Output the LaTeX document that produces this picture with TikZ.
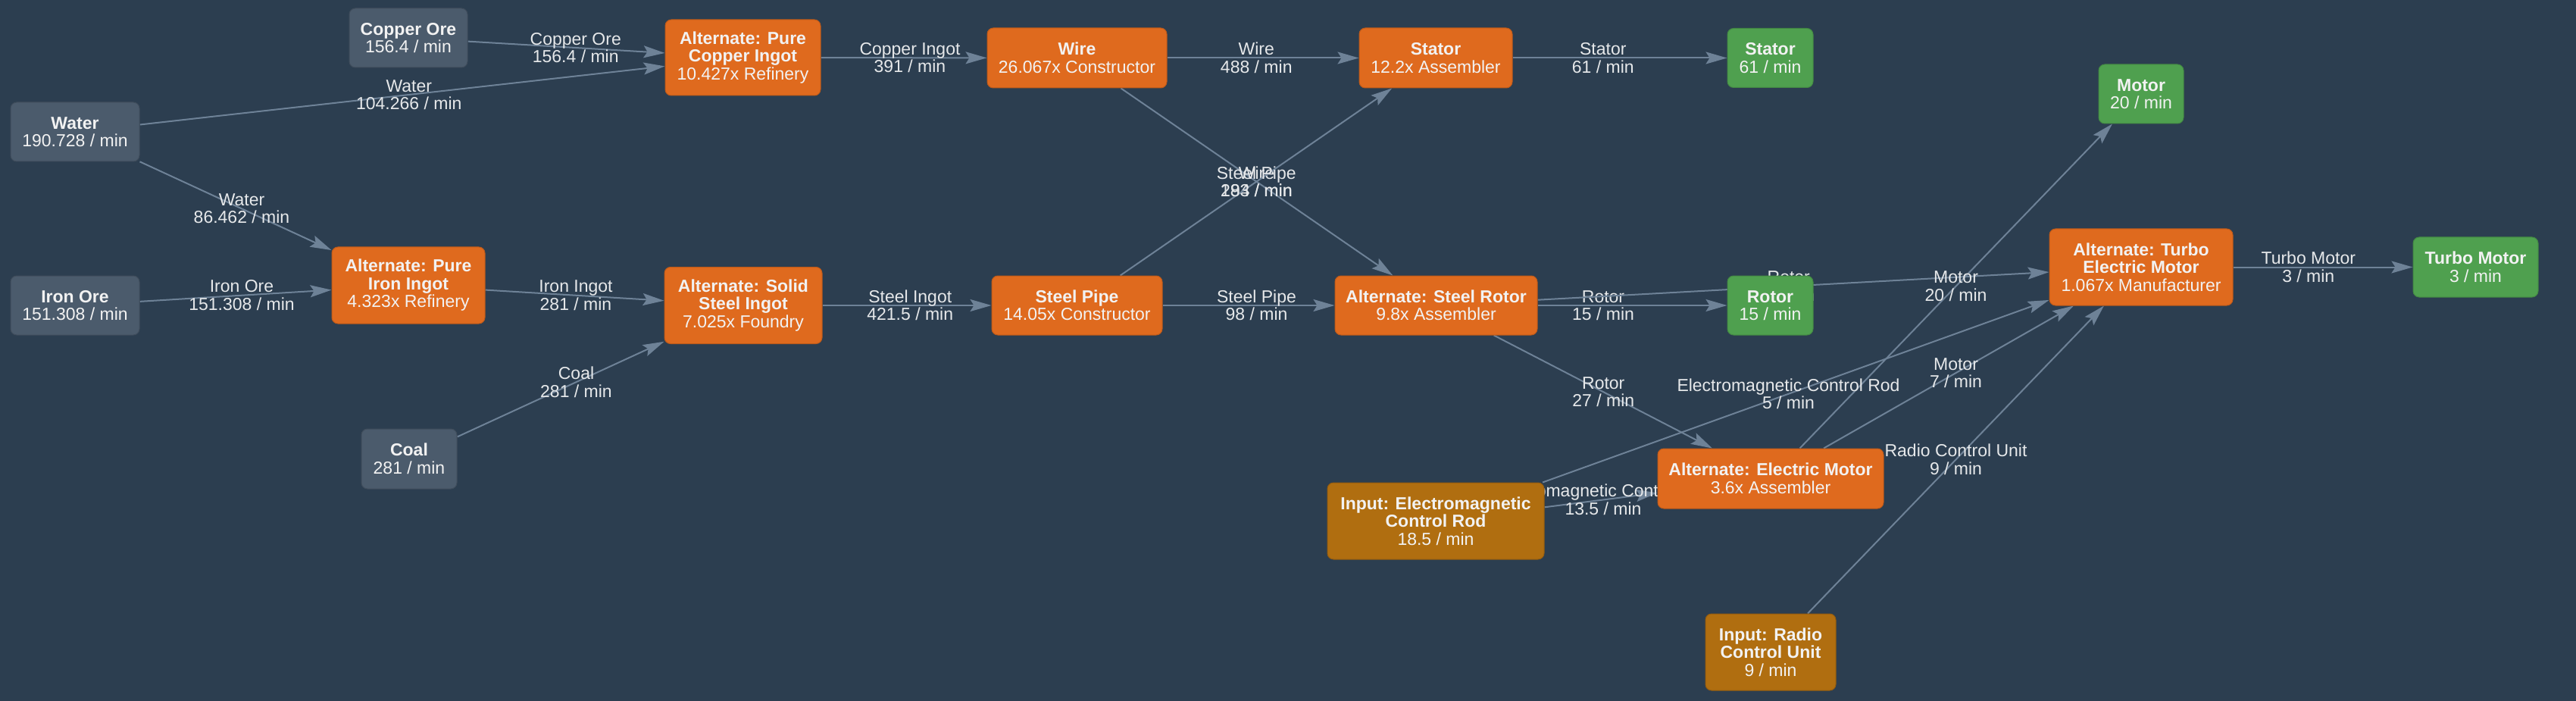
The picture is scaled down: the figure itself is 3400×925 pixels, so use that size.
\documentclass[tikz,border=0pt]{standalone}
\usepackage{fontspec}
\setmainfont{Liberation Sans}
\usetikzlibrary{calc,arrows.meta}
\definecolor{bgc}{HTML}{2C3E50}
\definecolor{srcc}{HTML}{4B5B6C}
\definecolor{procc}{HTML}{DF6A1E}
\definecolor{outc}{HTML}{4FA04F}
\definecolor{inpc}{HTML}{B06E10}
\definecolor{edgec}{HTML}{6E8297}
\definecolor{txtc}{HTML}{F2F2F2}
\definecolor{lblc}{HTML}{E6E8EA}
\pgfdeclarelayer{bglayer}
\pgfdeclarelayer{edgelayer}
\pgfsetlayers{bglayer,edgelayer,main}
\newcommand\flowline[4]{%
  \draw[flow] (#2) -- (#3);
  \node[lbl] (#1) at ($(#2)!0.5!(#3)$) {#4};}
\begin{document}
\begin{tikzpicture}[x=1pt,y=-1pt,
  box/.style={rectangle, rounded corners=8pt, inner sep=0pt, align=center,
    text=txtc, font=\fontsize{23pt}{23.5pt}\selectfont, line width=1pt},
  src/.style={box, fill=srcc, draw=srcc!85!black},
  proc/.style={box, fill=procc, draw=procc!85!black},
  outp/.style={box, fill=outc, draw=outc!85!black},
  inp/.style={box, fill=inpc, draw=inpc!85!black},
  flow/.style={draw=edgec, line width=2pt, -{Stealth[length=28pt,width=16pt,inset=5pt]}},
  lbl/.style={align=center, text=lblc, inner sep=0pt, font=\fontsize{23pt}{23.5pt}\selectfont},
]
\begin{pgfonlayer}{bglayer}
\fill[bgc] (0,0) rectangle (3400,925);
\end{pgfonlayer}
\useasboundingbox (0,0) rectangle (3400,925);

% sources
\node[src, minimum width=156pt, minimum height=78pt] (copperore) at (539,50) {\textbf{Copper Ore}\\156.4 / min};
\node[src, minimum width=170pt, minimum height=78pt] (water) at (99,174) {\textbf{Water}\\190.728 / min};
\node[src, minimum width=170pt, minimum height=78pt] (ironore) at (99,403) {\textbf{Iron Ore}\\151.308 / min};
\node[src, minimum width=126pt, minimum height=79pt] (coal) at (540,605.5) {\textbf{Coal}\\281 / min};

% processes
\node[proc, minimum width=205pt, minimum height=100pt] (cuingot) at (980.5,76) {\textbf{Alternate: Pure}\\\textbf{Copper Ingot}\\10.427x Refinery};
\node[proc, minimum width=202pt, minimum height=101pt] (feingot) at (539,376.5) {\textbf{Alternate: Pure}\\\textbf{Iron Ingot}\\4.323x Refinery};
\node[proc, minimum width=208pt, minimum height=101pt] (steelingot) at (981,403) {\textbf{Alternate: Solid}\\\textbf{Steel Ingot}\\7.025x Foundry};
\node[proc, minimum width=237pt, minimum height=79pt] (wire) at (1421.5,76.5) {\textbf{Wire}\\26.067x Constructor};
\node[proc, minimum width=225pt, minimum height=78pt] (steelpipe) at (1421.5,403) {\textbf{Steel Pipe}\\14.05x Constructor};
\node[proc, minimum width=202pt, minimum height=79pt] (stator) at (1895,76.5) {\textbf{Stator}\\12.2x Assembler};
\node[proc, minimum width=267pt, minimum height=78pt] (steelrotor) at (1895.5,403) {\textbf{Alternate: Steel Rotor}\\9.8x Assembler};
\node[proc, minimum width=298pt, minimum height=79pt] (emotor) at (2337,631.5) {\textbf{Alternate: Electric Motor}\\3.6x Assembler};
\node[proc, minimum width=242pt, minimum height=101pt] (turbo) at (2826,352.5) {\textbf{Alternate: Turbo}\\\textbf{Electric Motor}\\1.067x Manufacturer};

% inputs
\node[inp, minimum width=286pt, minimum height=101pt] (emrod) at (1895,687.5) {\textbf{Input: Electromagnetic}\\\textbf{Control Rod}\\18.5 / min};
\node[inp, minimum width=172pt, minimum height=101pt] (radio) at (2337,860.5) {\textbf{Input: Radio}\\\textbf{Control Unit}\\9 / min};

% outputs
\node[outp, minimum width=113pt, minimum height=78pt] (statorout) at (2336.5,76.5) {\textbf{Stator}\\61 / min};
\node[outp, minimum width=113pt, minimum height=78pt] (rotorout) at (2336.5,403) {\textbf{Rotor}\\15 / min};
\node[outp, minimum width=112pt, minimum height=78pt] (motorout) at (2826,124) {\textbf{Motor}\\20 / min};
\node[outp, minimum width=165pt, minimum height=79pt] (turboout) at (3267.5,352.5) {\textbf{Turbo Motor}\\3 / min};

\begin{pgfonlayer}{edgelayer}
\flowline{l1}{copperore}{cuingot}{Copper Ore\\156.4 / min}
\flowline{l2}{water}{cuingot}{Water\\104.266 / min}
\flowline{l3}{water}{feingot}{Water\\86.462 / min}
\flowline{l4}{ironore}{feingot}{Iron Ore\\151.308 / min}
\flowline{l5}{feingot}{steelingot}{Iron Ingot\\281 / min}
\flowline{l6}{coal}{steelingot}{Coal\\281 / min}
\flowline{l7}{cuingot}{wire}{Copper Ingot\\391 / min}
\flowline{l8}{steelingot}{steelpipe}{Steel Ingot\\421.5 / min}
\flowline{l9}{wire}{stator}{Wire\\488 / min}
\flowline{l10}{wire}{steelrotor}{Wire\\294 / min}
\flowline{l11}{steelpipe}{stator}{Steel Pipe\\183 / min}
\flowline{l12}{steelpipe}{steelrotor}{Steel Pipe\\98 / min}
\flowline{l13}{stator}{statorout}{Stator\\61 / min}
\flowline{l14}{steelrotor}{rotorout}{Rotor\\15 / min}
\flowline{l15}{steelrotor}{emotor}{Rotor\\27 / min}
\flowline{l16}{steelrotor}{turbo}{Rotor\\7 / min}
\flowline{l17}{emotor}{motorout}{Motor\\20 / min}
\flowline{l18}{emotor}{turbo}{Motor\\7 / min}
\flowline{l19}{emrod}{emotor}{Electromagnetic Control Rod\\13.5 / min}
\flowline{l20}{emrod}{turbo}{Electromagnetic Control Rod\\5 / min}
\flowline{l21}{radio}{turbo}{Radio Control Unit\\9 / min}
\flowline{l22}{turbo}{turboout}{Turbo Motor\\3 / min}
\end{pgfonlayer}
\end{tikzpicture}
\end{document}
